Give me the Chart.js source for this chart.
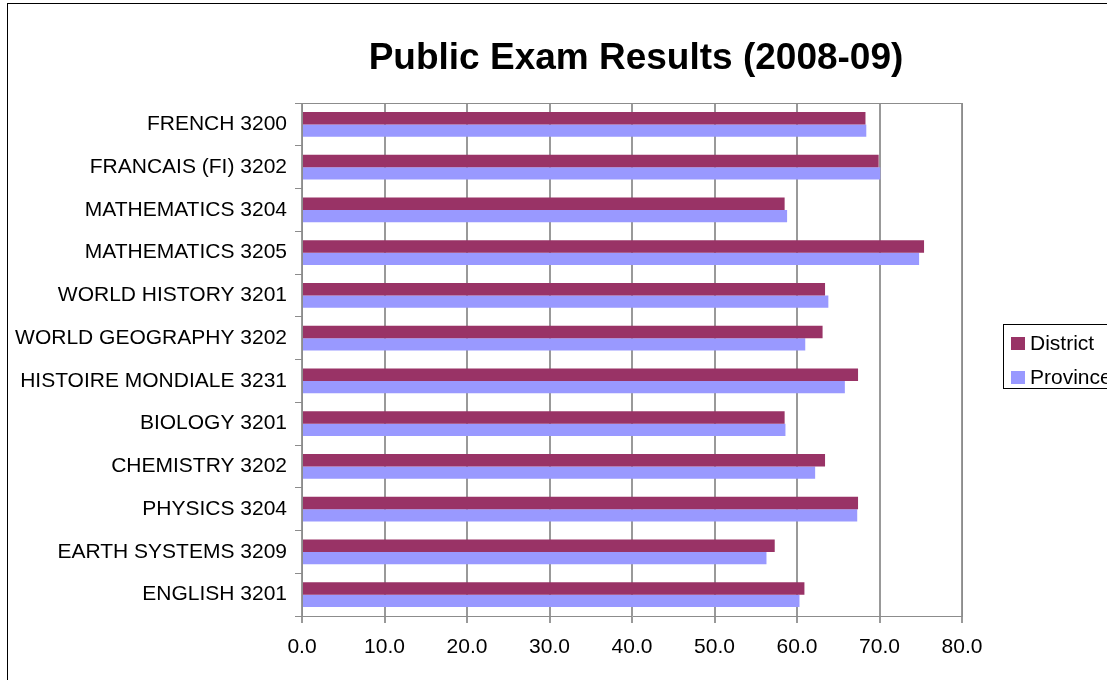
<!DOCTYPE html>
<html>
<head>
<meta charset="utf-8">
<title>Public Exam Results (2008-09)</title>
<script src="https://cdn.jsdelivr.net/npm/chart.js@4/dist/chart.umd.min.js"></script>
<style>
    body { margin: 0; background: #fff; overflow: hidden; }
    #wrap { position: absolute; left: 0; top: 0; width: 1107px; height: 680px; }
</style>
</head>
<body>
<div id="wrap"><canvas id="myChart" width="1107" height="680"></canvas></div>
<script>
var chartTitle = 'Public Exam Results (2008-09)';

var subjects = [
    'FRENCH 3200',
    'FRANCAIS (FI) 3202',
    'MATHEMATICS 3204',
    'MATHEMATICS 3205',
    'WORLD HISTORY 3201',
    'WORLD GEOGRAPHY 3202',
    'HISTOIRE MONDIALE 3231',
    'BIOLOGY 3201',
    'CHEMISTRY 3202',
    'PHYSICS 3204',
    'EARTH SYSTEMS 3209',
    'ENGLISH 3201'
];

var district_marks = [68.3, 69.9, 58.5, 75.4, 63.4, 63.1, 67.4, 58.5, 63.4, 67.4, 57.3, 60.9];
var province_marks = [68.4, 70.1, 58.8, 74.8, 63.8, 61.0, 65.8, 58.6, 62.2, 67.3, 56.3, 60.3];

var x_min = 0;
var x_max = 80;
var x_step = 10;

var font_family = "'Liberation Sans', Arial, sans-serif";
var grid_color = '#8c8c8c';

// plot frame, page border, title and the boxed legend
var extrasPlugin = {
    id: 'extras',
    afterDraw: function(chart) {
        var ctx = chart.ctx;
        var a = chart.chartArea;
        ctx.save();

        // outer border of the chart object (runs off the window)
        ctx.strokeStyle = '#000';
        ctx.lineWidth = 1;
        ctx.strokeRect(7.5, 3.5, 1200, 800);

        // plot area frame
        ctx.strokeStyle = grid_color;
        ctx.beginPath();
        ctx.moveTo(Math.round(a.left) + 0.5, Math.round(a.top) + 0.5);
        ctx.lineTo(Math.round(a.right) + 0.5, Math.round(a.top) + 0.5);
        ctx.lineTo(Math.round(a.right) + 0.5, Math.round(a.bottom) + 0.5);
        ctx.stroke();

        // title
        ctx.fillStyle = '#000';
        ctx.font = 'bold 37px ' + font_family;
        ctx.textAlign = 'center';
        ctx.textBaseline = 'middle';
        ctx.fillText(chartTitle, 636, 59);

        // legend
        ctx.strokeStyle = '#000';
        ctx.strokeRect(1003.5, 324.5, 200, 64);
        ctx.font = '21px ' + font_family;
        ctx.textAlign = 'left';
        var rows = [343, 377];
        chart.data.datasets.forEach(function(ds, i) {
            ctx.fillStyle = ds.backgroundColor;
            ctx.fillRect(1011, rows[i] - 6, 14, 13);
            ctx.fillStyle = '#000';
            ctx.fillText(ds.label, 1030, rows[i] + 1);
        });
        ctx.restore();
    }
};

var ctx = document.getElementById('myChart').getContext('2d');
var chart = new Chart(ctx, {
    type: 'bar',
    data: {
        labels: subjects,
        datasets: [{
            label: 'District',
            backgroundColor: '#993366',
            data: district_marks
        }, {
            label: 'Province',
            backgroundColor: '#9999FF',
            data: province_marks
        }]
    },
    options: {
        indexAxis: 'y',
        responsive: false,
        animation: false,
        events: [],
        layout: {
            padding: { left: 0, top: 103, right: 145, bottom: 0 }
        },
        datasets: {
            bar: {
                categoryPercentage: 0.58,
                barPercentage: 1.0
            }
        },
        plugins: {
            legend: { display: false },
            title: { display: false },
            tooltip: { enabled: false }
        },
        scales: {
            x: {
                min: x_min,
                max: x_max,
                afterFit: function(scale) { scale.height = 64; },
                ticks: {
                    stepSize: x_step,
                    color: '#000',
                    padding: 12,
                    maxRotation: 0,
                    font: { family: font_family, size: 21 },
                    callback: function(value) { return Number(value).toFixed(1); }
                },
                grid: {
                    color: '#999999',
                    lineWidth: 2,
                    drawTicks: true,
                    tickLength: 7
                },
                border: { color: grid_color, width: 1 }
            },
            y: {
                afterFit: function(scale) { scale.width = 302; },
                ticks: {
                    color: '#000',
                    padding: 8,
                    autoSkip: false,
                    font: { family: font_family, size: 21 }
                },
                grid: {
                    offset: true,
                    color: grid_color,
                    drawOnChartArea: false,
                    drawTicks: true,
                    tickLength: 7
                },
                border: { color: grid_color, width: 1 }
            }
        }
    },
    plugins: [extrasPlugin]
});
</script>
</body>
</html>
